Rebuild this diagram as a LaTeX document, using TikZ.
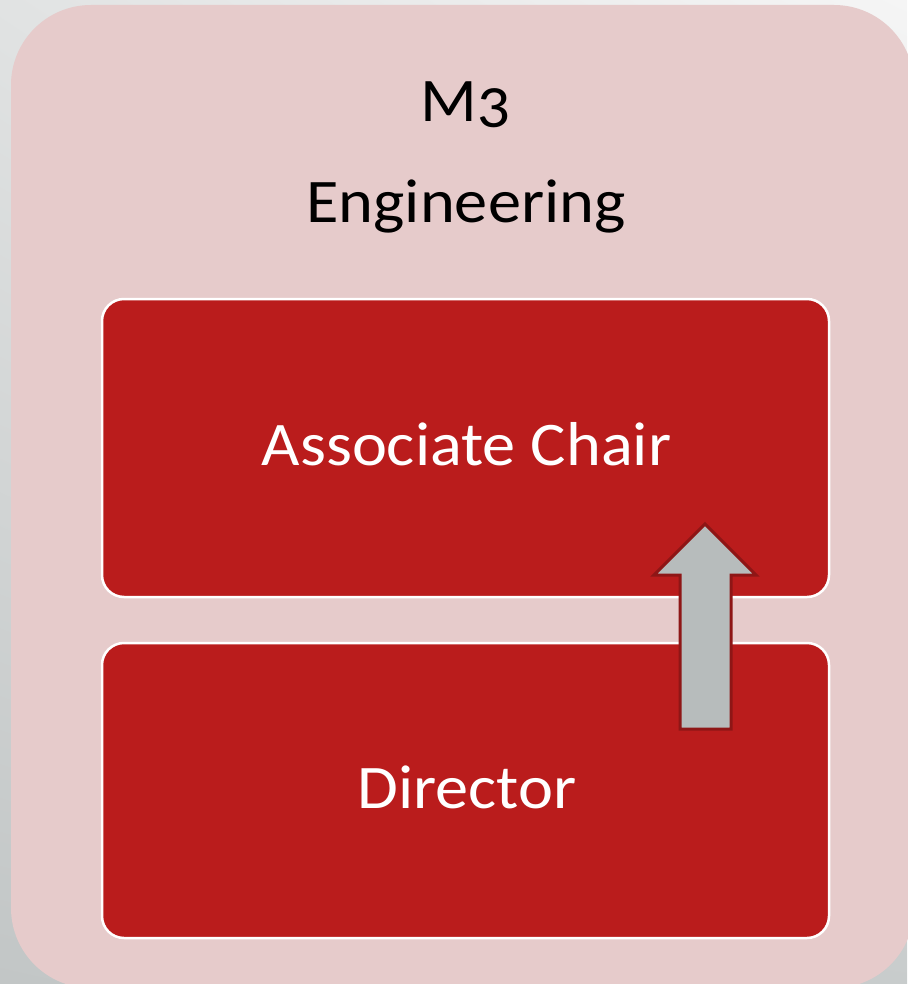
\documentclass[tikz,border=0pt]{standalone}
\usepackage{fontspec}
\setmainfont{Carlito}[FakeStretch=1.07]
\usetikzlibrary{shadings}
\definecolor{outerpink}{HTML}{E6CBCB}
\definecolor{boxred}{HTML}{BA1C1C}
\definecolor{arrowgrey}{HTML}{B7BCBC}
\definecolor{arrowedge}{HTML}{8E1616}
\definecolor{bgul}{RGB}{225,227,227}
\definecolor{bgur}{RGB}{245,245,245}
\definecolor{bgll}{RGB}{194,198,198}
\definecolor{bglr}{RGB}{200,204,204}
\tikzset{
  rolebox/.style={draw=white, line width=2.5pt, fill=boxred, rounded corners=22pt},
  roletext/.style={text=white, font=\fontsize{62}{70}\selectfont, anchor=base, inner sep=0pt},
  headtext/.style={text=black, font=\fontsize{62}{70}\selectfont, anchor=base, inner sep=0pt},
  blockarrow/.style={draw=arrowedge, line width=3pt, fill=arrowgrey, line join=miter}
}
\begin{document}
\begin{tikzpicture}[x=1pt,y=-1pt]
\useasboundingbox (0,0) rectangle (907,984);
\shade[upper left=bgul, upper right=bgur, lower left=bgll, lower right=bglr]
  (0,0) rectangle (907,984);
\fill[outerpink, rounded corners=80pt] (11,5) rectangle (914,988);
\draw[rolebox] (102,299) rectangle (829,597);
\draw[rolebox] (102,643) rectangle (829,938);
\node[headtext] (m3) at (466,122) {M{\addfontfeatures{Numbers=OldStyle}3}};
\node[headtext] (eng) at (466,223) {Engineering};
\node[roletext] (assoc) at (466.5,465) {Associate Chair};
\node[roletext] (dir) at (467,808) {Director};
\draw[blockarrow] (680,729) -- (680,575) -- (654,575) -- (705,524) -- (756,575) -- (731,575) -- (731,729) -- cycle;
\end{tikzpicture}
\end{document}
